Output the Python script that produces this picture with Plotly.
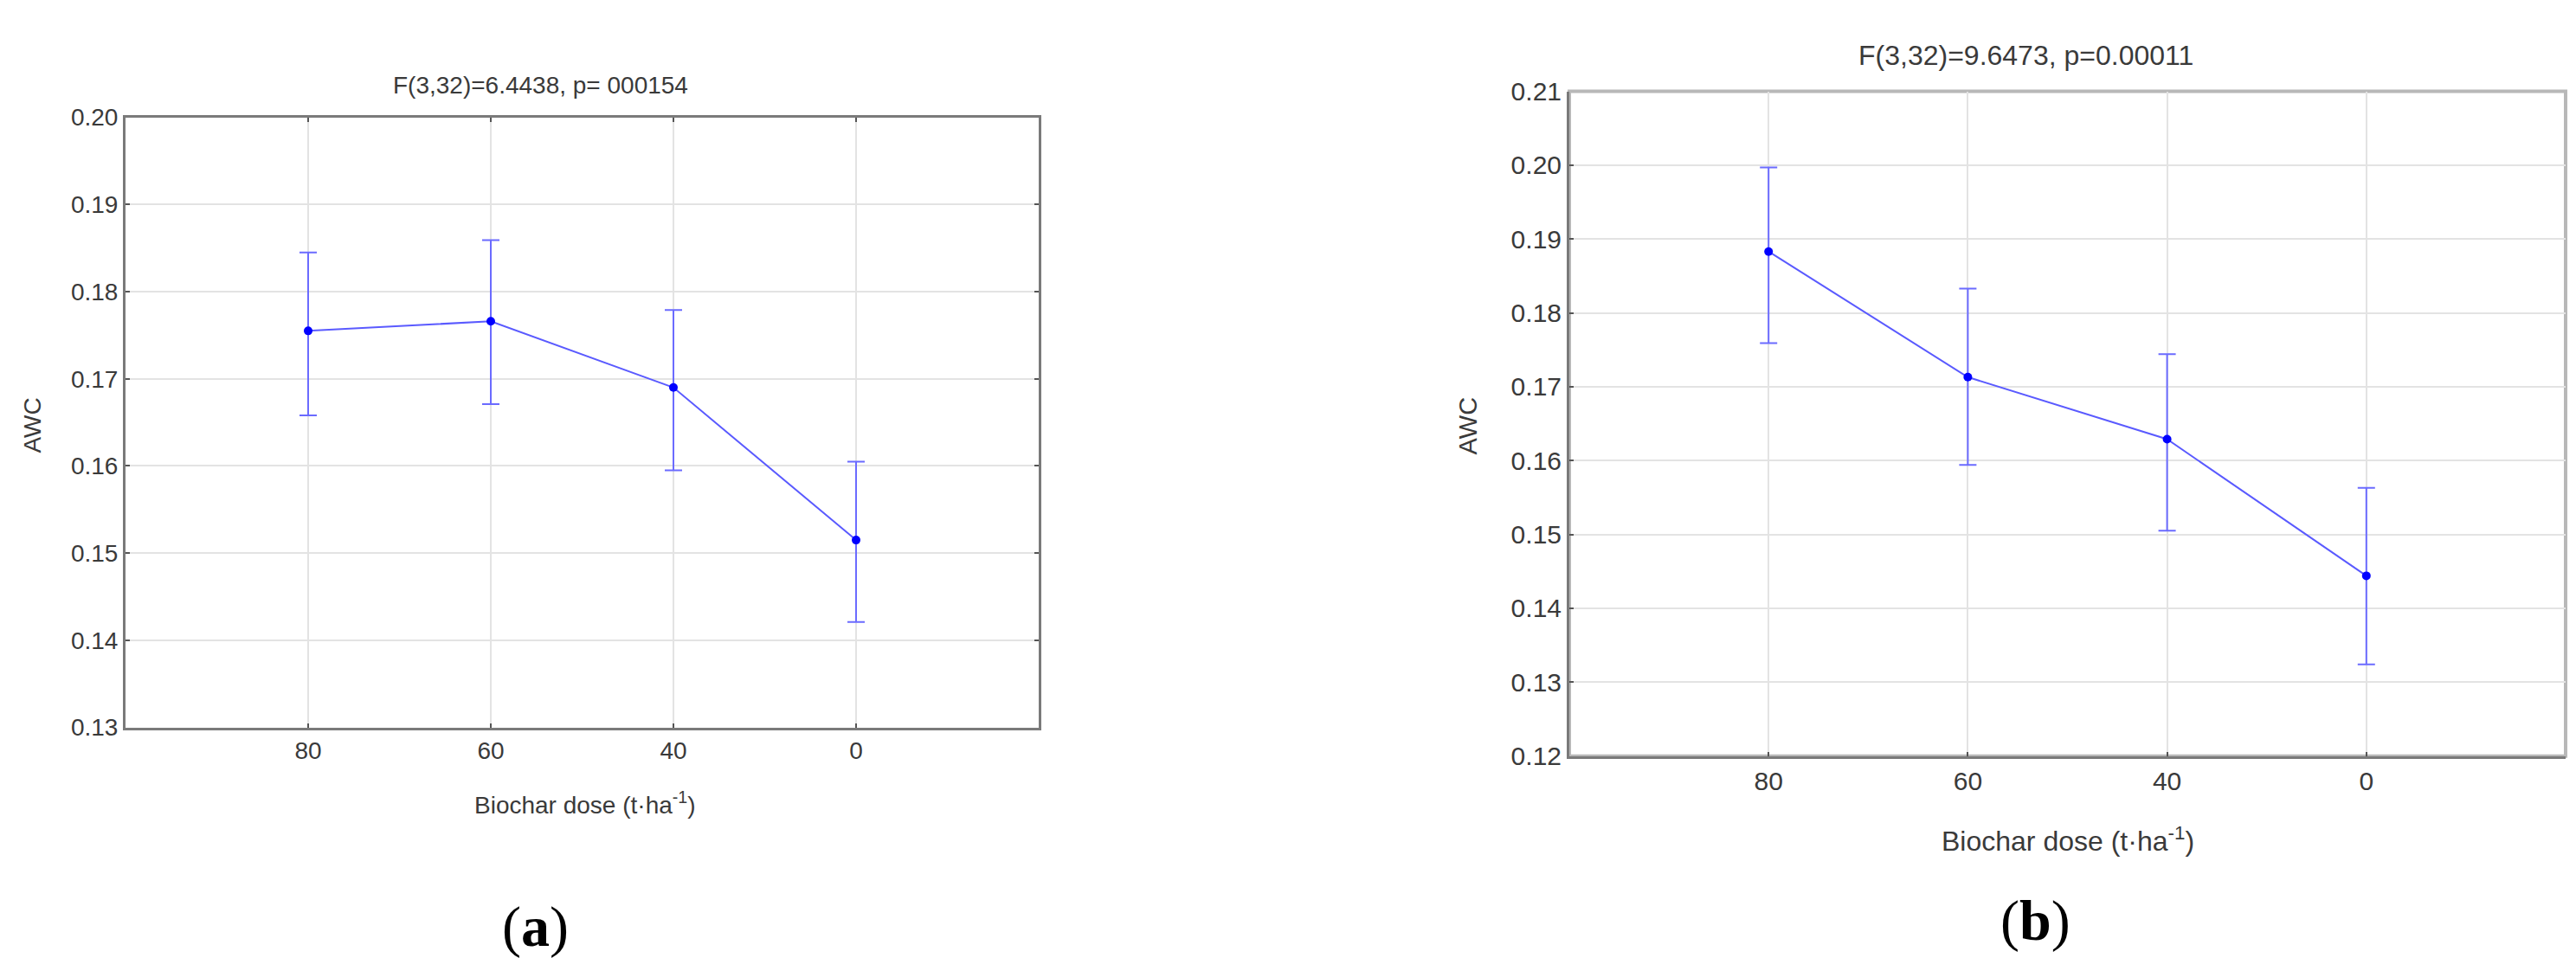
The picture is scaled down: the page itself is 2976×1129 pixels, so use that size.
import plotly.graph_objects as go

# biochar dose categories (t/ha)
doses = ["80", "60", "40", "0"]

# panel (a)
awc_a = [0.1755, 0.1766, 0.1690, 0.1515]
upper_a = [0.1845, 0.1859, 0.1779, 0.1605]
lower_a = [0.1658, 0.1671, 0.1595, 0.1421]
title_a = "F(3,32)=6.4438, p= 000154"

# panel (b)
awc_b = [0.1883, 0.1713, 0.1629, 0.1444]
upper_b = [0.1997, 0.1833, 0.1744, 0.1563]
lower_b = [0.1759, 0.1594, 0.1505, 0.1324]
title_b = "F(3,32)=9.6473, p=0.00011"

W, H = 2976, 1129
LINE = "#5a5aff"
DOT = "#0000ff"
BAR = "#6b6bff"
TXT = "#3a3a3a"
GRID = "#e3e3e3"
AX_DARK = "#7a7a7a"
AX_LIGHT = "#b8b8b8"


def px(x):
    return x / W


def py(y):
    return 1 - y / H


fig = go.Figure()


def add_panel(means, up, lo, xa, ya):
    plus = [u - m for u, m in zip(up, means)]
    minus = [m - l for m, l in zip(means, lo)]
    fig.add_trace(go.Scatter(
        x=doses, y=means, mode="lines+markers",
        line=dict(color=LINE, width=2),
        marker=dict(color=DOT, size=10),
        error_y=dict(type="data", array=plus, arrayminus=minus,
                     color=BAR, thickness=2, width=10),
        xaxis=xa, yaxis=ya, showlegend=False,
    ))


add_panel(awc_a, upper_a, lower_a, "x", "y")
add_panel(awc_b, upper_b, lower_b, "x2", "y2")

font_a = dict(family="Liberation Sans, Arial", size=28, color=TXT)
font_b = dict(family="Liberation Sans, Arial", size=32, color=TXT)
tick_a = dict(family="Liberation Sans, Arial", size=28, color=TXT)
tick_b = dict(family="Liberation Sans, Arial", size=30, color=TXT)

fig.update_layout(
    width=W, height=H,
    margin=dict(l=0, r=0, t=0, b=0),
    paper_bgcolor="white", plot_bgcolor="white",
    xaxis=dict(domain=[px(137), px(1192)], anchor="y", type="category",
               range=[-1, 4], showgrid=True, gridcolor=GRID, gridwidth=2,
               showline=True, linecolor=AX_DARK, linewidth=3, mirror="ticks",
               ticks="inside", ticklen=5, tickcolor="#555", tickwidth=2,
               tickfont=tick_a, zeroline=False),
    yaxis=dict(domain=[py(841), py(114)], anchor="x",
               range=[0.13, 0.20], dtick=0.01, tickformat=".2f",
               showgrid=True, gridcolor=GRID, gridwidth=2,
               showline=True, linecolor=AX_DARK, linewidth=3, mirror="ticks",
               ticks="inside", ticklen=5, tickcolor="#555", tickwidth=2,
               tickfont=tick_a, zeroline=False),
    xaxis2=dict(domain=[px(1805), px(2956)], anchor="y2", type="category",
                range=[-1, 4], showgrid=True, gridcolor=GRID, gridwidth=2,
                showline=True, linecolor=AX_DARK, linewidth=3,
                ticks="inside", ticklen=5, tickcolor="#555", tickwidth=2,
                tickfont=tick_b, zeroline=False),
    yaxis2=dict(domain=[py(875), py(83)], anchor="x2",
                range=[0.12, 0.21], dtick=0.01, tickformat=".2f",
                showgrid=True, gridcolor=GRID, gridwidth=2,
                showline=True, linecolor=AX_DARK, linewidth=3,
                ticks="inside", ticklen=5, tickcolor="#555", tickwidth=2,
                tickfont=tick_b, zeroline=False),
)

# lighter frame on the right panel
fig.add_shape(type="rect", xref="x2 domain", yref="y2 domain",
              x0=0, x1=1, y0=0, y1=1, layer="below",
              line=dict(color=AX_LIGHT, width=4))

notes = [
    (title_a, 616, 76, font_a, 0),
    (title_b, 2332, 40, font_b, 0),
    ("Biochar dose (t·ha<sup>-1</sup>)", 668, 931, font_a, 0),
    ("Biochar dose (t·ha<sup>-1</sup>)", 2381, 974, font_b, 0),
    ("AWC", 30, 481, font_a, -90),
    ("AWC", 1688, 482, dict(font_a, size=29), -90),
]
for text, x, y, f, ang in notes:
    fig.add_annotation(text=text, x=px(x), y=py(y), xref="paper", yref="paper",
                       showarrow=False, font=f, textangle=ang,
                       xanchor="center", yanchor="middle")

for lab, x, y in [("(<b>a</b>)", 610, 1078), ("(<b>b</b>)", 2343, 1071)]:
    fig.add_annotation(text=lab, x=px(x), y=py(y), xref="paper", yref="paper",
                       showarrow=False,
                       font=dict(family="Liberation Serif, Times New Roman", size=66, color="black"),
                       xanchor="center", yanchor="middle")

fig.write_html("out.html")
